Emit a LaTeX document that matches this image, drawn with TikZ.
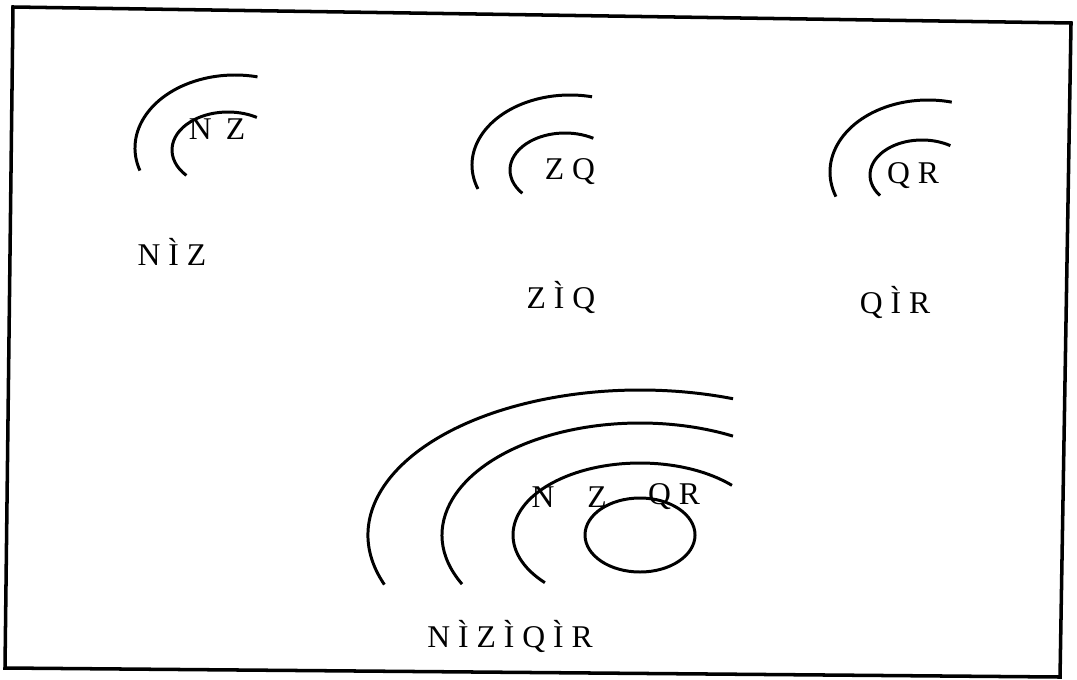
\documentclass[tikz,border=0pt]{standalone}
\usepackage{fontspec}
\newfontfamily\lblfont{Liberation Serif}[LetterSpace=25]
\begin{document}
\begin{tikzpicture}[x=0.01cm,y=-0.01cm,
    arcline/.style={line width=0.85pt},
    lbl/.style={inner sep=0pt,font=\lblfont\fontsize{9}{11}\selectfont}]
  \useasboundingbox (0,0) rectangle (1077,679);
  \draw[line width=1pt] (13,7) -- (1071,23) -- (1060,677) -- (5,668) -- cycle;
  % N in Z
  \draw[arcline] (235,148) ++(-198:100 and 73) arc[start angle=-198,end angle=-77,x radius=100,y radius=73];
  \draw[arcline] (228,150) ++(-222:56 and 38) arc[start angle=-222,end angle=-59,x radius=56,y radius=38];
  \node[lbl] (nz) at (217,129) {N\hspace{4pt}Z};
  \node[lbl] (ninz) at (172,252) {NÌZ};
  % Z in Q
  \draw[arcline] (570,165) ++(-200:98 and 70) arc[start angle=-200,end angle=-77,x radius=98,y radius=70];
  \draw[arcline] (565,170) ++(-219:55 and 37) arc[start angle=-219,end angle=-59,x radius=55,y radius=37];
  \node[lbl] (zq) at (570,172) {ZQ};
  \node[lbl] (zinq) at (561,297) {ZÌQ};
  % Q in R
  \draw[arcline] (928,172) ++(-200:98 and 72) arc[start angle=-200,end angle=-76,x radius=98,y radius=72];
  \draw[arcline] (922,175) ++(-216:52 and 35) arc[start angle=-216,end angle=-57,x radius=52,y radius=35];
  \node[lbl] (qr) at (913,176) {QR};
  \node[lbl] (qinr) at (895,302) {QÌR};
  % all four together
  \draw[arcline] (640,535) ++(-200:272 and 145) arc[start angle=-200,end angle=-70,x radius=272,y radius=145];
  \draw[arcline] (640,535) ++(-206:198 and 112) arc[start angle=-206,end angle=-62,x radius=198,y radius=112];
  \draw[arcline] (640,535) ++(-221.5:127 and 72) arc[start angle=-221.5,end angle=-43.6,x radius=127,y radius=72];
  \draw[arcline] (640,535) ellipse[x radius=55,y radius=37];
  \node[lbl] (n) at (543,497) {N};
  \node[lbl] (z) at (597,497) {Z};
  \node[lbl] (qr2) at (674,497) {QR};
  \node[lbl] (chain) at (510,636) {NÌZÌQÌR};
\end{tikzpicture}
\end{document}
